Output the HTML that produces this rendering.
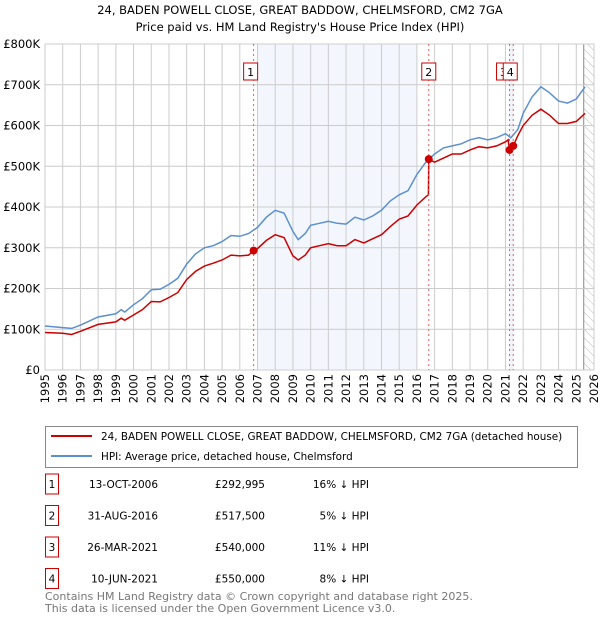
<!DOCTYPE html>
<html><head><meta charset="utf-8">
<style>
body{margin:0;background:#fff;width:600px;height:620px;overflow:hidden;font-family:"DejaVu Sans","Liberation Sans",sans-serif;}
svg text{font-family:"DejaVu Sans","Liberation Sans",sans-serif;}
</style></head>
<body>
<svg id="chart" width="600" height="620" xmlns="http://www.w3.org/2000/svg">
<text x="300" y="14" text-anchor="middle" font-size="11.5">24, BADEN POWELL CLOSE, GREAT BADDOW, CHELMSFORD, CM2 7GA</text>
<text x="300" y="31" text-anchor="middle" font-size="11.5">Price paid vs. HM Land Registry's House Price Index (HPI)</text>
<defs><pattern id="hatch" width="6" height="6" patternUnits="userSpaceOnUse" patternTransform="rotate(-45)"><line x1="0" y1="0" x2="0" y2="6" stroke="#bbb" stroke-width="1"/></pattern></defs>
<g id="bg"></g><g id="grid"></g><g id="lines"></g><g id="marks"></g>
<g>
<rect x="45.5" y="426.5" width="532" height="41" fill="#fff" stroke="#888"/>
<line x1="51" y1="436" x2="92" y2="436" stroke="#cc0000" stroke-width="2"/>
<text x="101" y="440" font-size="10.4">24, BADEN POWELL CLOSE, GREAT BADDOW, CHELMSFORD, CM2 7GA (detached house)</text>
<line x1="51" y1="456" x2="92" y2="456" stroke="#5b8fd0" stroke-width="2"/>
<text x="101" y="460" font-size="10.4">HPI: Average price, detached house, Chelmsford</text>
</g>
<g id="table" font-size="10.5"></g>
<text x="45" y="600" font-size="11" fill="#777">Contains HM Land Registry data © Crown copyright and database right 2025.</text>
<text x="45" y="612" font-size="11" fill="#777">This data is licensed under the Open Government Licence v3.0.</text>
</svg>
<script>
const hpiYears=[1995,1996,1996.5,1997,1998,1999,1999.3,1999.5,2000,2000.5,2001,2001.5,2002,2002.5,2003,2003.5,2004,2004.5,2005,2005.5,2006,2006.5,2007,2007.5,2008,2008.5,2009,2009.3,2009.7,2010,2010.5,2011,2011.5,2012,2012.5,2013,2013.5,2014,2014.5,2015,2015.5,2016,2016.5,2017,2017.5,2018,2018.5,2019,2019.5,2020,2020.5,2021,2021.3,2021.7,2022,2022.5,2023,2023.5,2024,2024.5,2025,2025.5];
const hpiValues=[108,104,102,110,130,138,148,142,160,175,197,198,210,225,260,285,300,305,315,330,328,335,350,375,392,385,340,320,335,355,360,365,360,358,375,368,378,392,415,430,440,480,510,530,545,550,555,565,570,565,570,580,570,590,630,670,695,680,660,655,665,695];
const propYears=[1995,1996,1996.5,1997,1998,1999,1999.3,1999.5,2000,2000.5,2001,2001.5,2002,2002.5,2003,2003.5,2004,2004.5,2005,2005.5,2006,2006.5,2006.78,2007,2007.5,2008,2008.5,2009,2009.3,2009.7,2010,2010.5,2011,2011.5,2012,2012.5,2013,2013.5,2014,2014.5,2015,2015.5,2016,2016.5,2016.65,2016.67,2017,2017.5,2018,2018.5,2019,2019.5,2020,2020.5,2021,2021.15,2021.23,2021.44,2021.7,2022,2022.5,2023,2023.5,2024,2024.5,2025,2025.5];
const propValues=[92,90,87,95,112,118,127,122,135,148,168,167,178,190,222,242,255,262,270,282,280,282,293,298,318,332,325,280,270,282,300,305,310,305,305,320,312,322,332,352,370,378,405,425,430,517,510,520,530,530,540,548,545,550,560,565,540,550,575,600,625,640,625,605,605,610,630];
const saleLabels=["1","2","3","4"];
const saleYears=[2006.78,2016.67,2021.23,2021.44];
const saleValues=[292.995,517.5,540,550];
const saleDates=["13-OCT-2006","31-AUG-2016","26-MAR-2021","10-JUN-2021"];
const salePrices=["£292,995","£517,500","£540,000","£550,000"];
const saleHpi=["16% ↓ HPI","5% ↓ HPI","11% ↓ HPI","8% ↓ HPI"];
const yTicks=[0,100,200,300,400,500,600,700,800];
const yTickLabels=["£0","£100K","£200K","£300K","£400K","£500K","£600K","£700K","£800K"];
const xTicks=[1995,1996,1997,1998,1999,2000,2001,2002,2003,2004,2005,2006,2007,2008,2009,2010,2011,2012,2013,2014,2015,2016,2017,2018,2019,2020,2021,2022,2023,2024,2025,2026];

const L=45,R=594,T=44,B=370;
const xs=y=>L+(y-1995)*(R-L)/31;
const ys=v=>B-v*(B-T)/800;
const NS="http://www.w3.org/2000/svg";
function mk(par,tag,at){const e=document.createElementNS(NS,tag);for(const k in at)e.setAttribute(k,at[k]);document.getElementById(par).appendChild(e);return e;}
let e=mk('bg','rect',{x:xs(2007),y:T,width:xs(2016)-xs(2007),height:B-T,fill:'#eef3fc',opacity:0.7});


e=mk('bg','rect',{x:xs(saleYears[2]),y:T,width:xs(saleYears[3])-xs(saleYears[2]),height:B-T,fill:'#eef3fc'});


e=mk('bg','rect',{x:xs(2025.42),y:T,width:R-xs(2025.42),height:B-T,fill:'url(#hatch)'});


mk('bg','line',{x1:xs(2025.42),y1:T,x2:xs(2025.42),y2:B,stroke:'#888'});
yTicks.forEach((v,i)=>{
 mk('grid','line',{x1:L,x2:R,y1:ys(v),y2:ys(v),stroke:'#ccc'});
 const t=mk('grid','text',{x:40,y:ys(v)+4,'text-anchor':'end','font-size':11.5});
 t.textContent=yTickLabels[i];
 
 
});
xTicks.forEach(y=>{
 mk('grid','line',{x1:xs(y),x2:xs(y),y1:T,y2:B,stroke:'#ccc'});
 const t=mk('grid','text',{x:0,y:0,'text-anchor':'end','font-size':11.5,transform:`translate(${(xs(y)+4).toFixed(1)},374) rotate(-90)`});
 t.textContent=y;
 
 
});
mk('grid','rect',{x:L,y:T,width:R-L,height:B-T,fill:'none',stroke:'#ccc'});
function path(xa,va){return xa.map((x,i)=>(i?'L':'M')+xs(x).toFixed(1)+','+ys(va[i]).toFixed(1)).join('');}
e=mk('lines','path',{d:path(hpiYears,hpiValues),fill:'none',stroke:'#5b8fd0','stroke-width':1.5});


e=mk('lines','path',{d:path(propYears,propValues),fill:'none',stroke:'#cc0000','stroke-width':1.5});


const badgeOffset=[-3,0,-6,-3];
saleYears.forEach((y,i)=>{
 mk('marks','line',{x1:xs(y),x2:xs(y),y1:T,y2:B,stroke:'#e06060','stroke-dasharray':'2,3'});
 const c=mk('marks','circle',{cx:xs(y),cy:ys(saleValues[i]),r:4,fill:'#cc0000'});
 
 
 const bx=xs(y)+badgeOffset[i];
 const r=mk('marks','rect',{x:bx-7,y:63,width:14,height:17,fill:'#fff',stroke:'#cc0000'});
 
 
 const t=mk('marks','text',{x:bx,y:76,'text-anchor':'middle','font-size':11});
 t.textContent=saleLabels[i];
});
saleLabels.forEach((l,i)=>{
 const cy=484+i*31.5;
 const r=mk('table','rect',{x:45.5,y:cy-10,width:13,height:20,fill:'#fff',stroke:'#cc0000'});
 
 
 let t=mk('table','text',{x:52,y:cy+4,'text-anchor':'middle'});t.textContent=l;
 t=mk('table','text',{x:158,y:cy+4,'text-anchor':'end'});t.textContent=saleDates[i];
 
 
 t=mk('table','text',{x:265,y:cy+4,'text-anchor':'end'});t.textContent=salePrices[i];
 
 
 t=mk('table','text',{x:369,y:cy+4,'text-anchor':'end'});t.textContent=saleHpi[i];
 
 
});
</script>
</body></html>
